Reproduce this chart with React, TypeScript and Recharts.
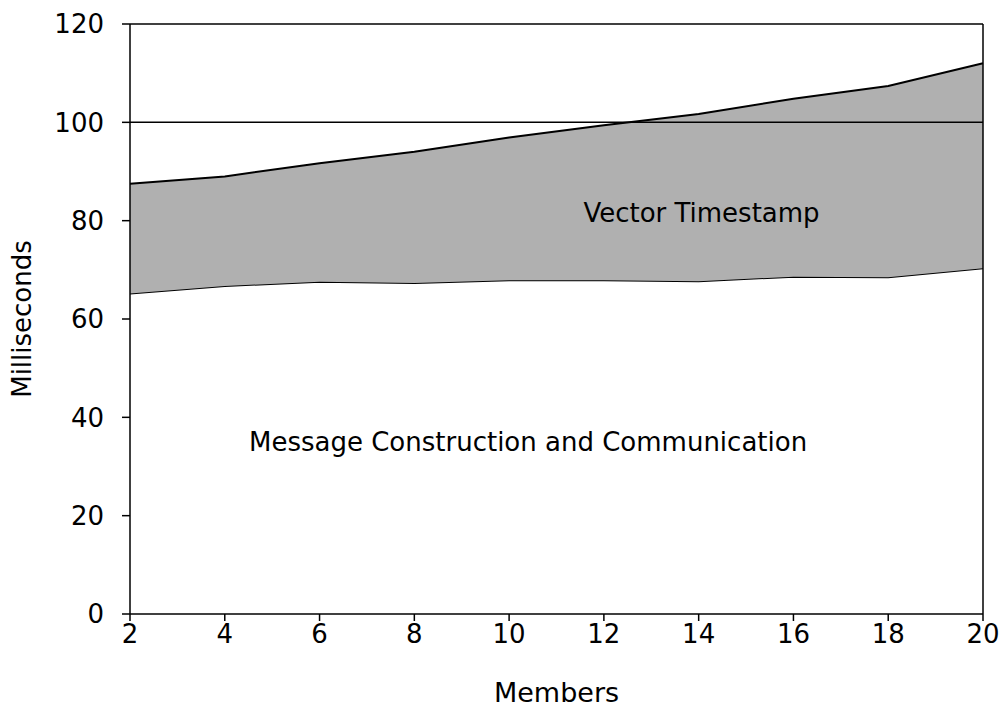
import { AreaChart, Area, XAxis, YAxis, ReferenceLine, ReferenceDot } from 'recharts'

const members = [2, 4, 6, 8, 10, 12, 14, 16, 18, 20]
const messageMs = [65.2, 66.7, 67.6, 67.3, 67.9, 67.9, 67.7, 68.6, 68.5, 70.3]
const vectorMs = [22.3, 22.3, 24.1, 26.7, 29.0, 31.5, 34.0, 36.2, 38.9, 41.7]
const xTicks = [2, 4, 6, 8, 10, 12, 14, 16, 18, 20]
const yTicks = [0, 20, 40, 60, 80, 100, 120]

const data = members.map((m, i) => ({ members: m, message: messageMs[i], vector: vectorMs[i] }))

const font = 'DejaVu Sans, Verdana, sans-serif'

export default function App() {
  return (
    <div style={{ position: 'absolute', left: 0, top: 0, background: '#fff' }}>
      <AreaChart width={1001} height={716} data={data} margin={{ top: 24, right: 18, bottom: 0, left: 0 }}>
        <XAxis
          dataKey="members"
          type="number"
          domain={[2, 20]}
          ticks={xTicks}
          stroke="#000"
          strokeWidth={1.5}
          tickSize={7}
          tickMargin={4}
          tick={{ fill: '#000', fontSize: 26, fontFamily: font }}
          label={{ value: 'Members', position: 'insideBottom', offset: 14, fill: '#000', fontSize: 27, fontFamily: font }}
          height={102}
        />
        <YAxis
          type="number"
          domain={[0, 120]}
          ticks={yTicks}
          stroke="#000"
          strokeWidth={1.5}
          tickSize={8}
          tickMargin={18}
          width={130}
          tick={{ fill: '#000', fontSize: 26, fontFamily: font }}
          label={{ value: 'Milliseconds', angle: -90, position: 'insideLeft', offset: 22, fill: '#000', fontSize: 26, fontFamily: font, style: { textAnchor: 'middle' } }}
        />
        <ReferenceLine y={100} stroke="#000" strokeWidth={1.5} />
        <ReferenceLine y={120} stroke="#000" strokeWidth={1.5} />
        <ReferenceLine x={20} stroke="#000" strokeWidth={1.5} />
        <Area
          type="linear"
          dataKey="message"
          stackId="a"
          stroke="#000"
          strokeWidth={2}
          fill="#fff"
          fillOpacity={1}
          isAnimationActive={false}
        />
        <Area
          type="linear"
          dataKey="vector"
          stackId="a"
          stroke="#000"
          strokeWidth={2}
          fill="#b0b0b0"
          fillOpacity={1}
          isAnimationActive={false}
        />
        <ReferenceDot x={14.06} y={81.6} r={0} fill="none" stroke="none"
          label={{ value: 'Vector Timestamp', position: 'center', fill: '#000', fontSize: 26, fontFamily: font }} />
        <ReferenceDot x={10.4} y={35} r={0} fill="none" stroke="none"
          label={{ value: 'Message Construction and Communication', position: 'center', fill: '#000', fontSize: 26, fontFamily: font }} />
      </AreaChart>
    </div>
  )
}
